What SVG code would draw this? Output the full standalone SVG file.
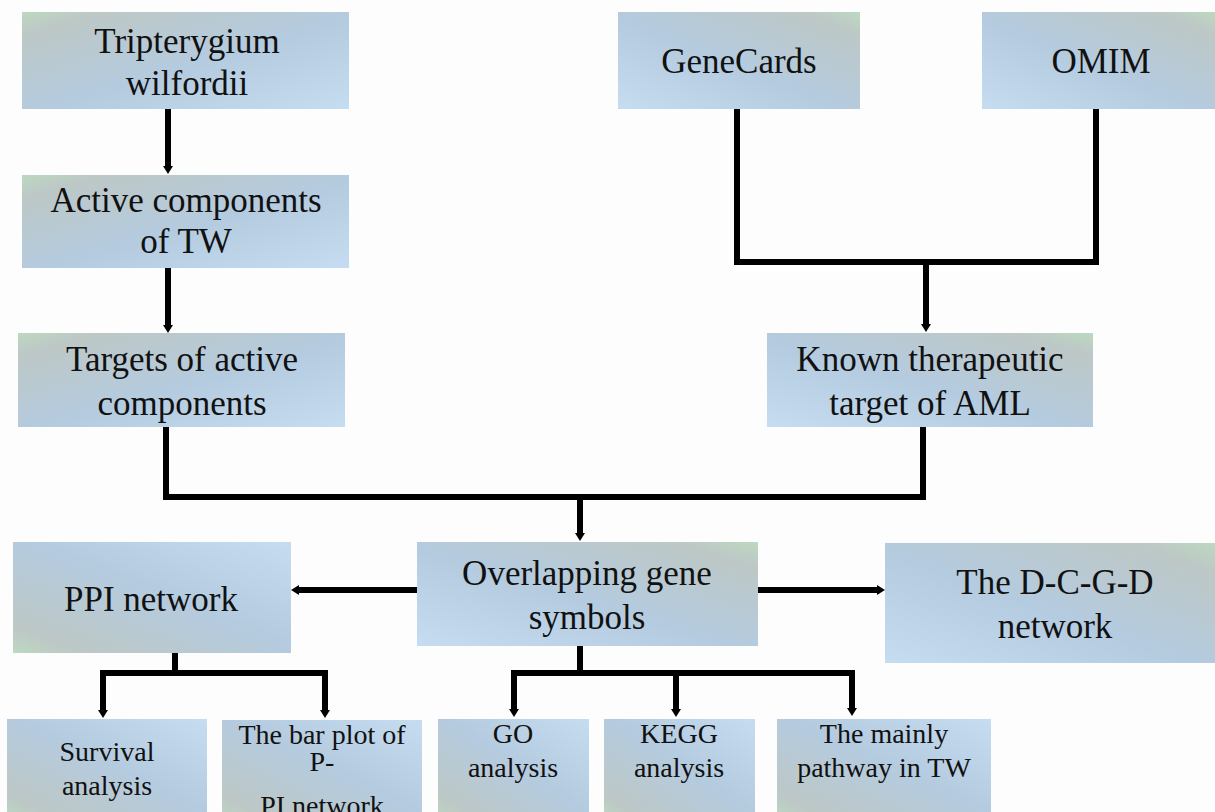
<svg xmlns="http://www.w3.org/2000/svg" width="1215" height="812" viewBox="0 0 1215 812">
<defs>
<linearGradient id="gA" x1="1" y1="0" x2="0" y2="1">
<stop offset="0" stop-color="#bcd9c0"/>
<stop offset="0.12" stop-color="#bdc8c6"/>
<stop offset="0.55" stop-color="#b4cbe0"/>
<stop offset="1" stop-color="#c6ddf1"/>
</linearGradient>
<linearGradient id="gB" x1="0" y1="0" x2="1" y2="1">
<stop offset="0" stop-color="#bcd9c0"/>
<stop offset="0.12" stop-color="#bdc8c6"/>
<stop offset="0.55" stop-color="#b4cbe0"/>
<stop offset="1" stop-color="#c6ddf1"/>
</linearGradient>
<linearGradient id="gC" x1="0" y1="1" x2="1" y2="0">
<stop offset="0" stop-color="#bcd9c0"/>
<stop offset="0.12" stop-color="#bdc8c6"/>
<stop offset="0.55" stop-color="#b4cbe0"/>
<stop offset="1" stop-color="#c6ddf1"/>
</linearGradient>
<marker id="ah" markerUnits="userSpaceOnUse" markerWidth="9" markerHeight="12" refX="0" refY="6" orient="auto">
<path d="M0,1 L8,6 L0,11 z" fill="#000"/>
</marker>
<style>
.t{font-family:"Liberation Serif","Times New Roman",serif;font-size:35px;fill:#111;text-anchor:middle}
.s{font-family:"Liberation Serif","Times New Roman",serif;font-size:28px;fill:#111;text-anchor:middle}
.ln{fill:none;stroke:#000;stroke-width:6;stroke-linejoin:miter}
.bar{fill:none;stroke:#000;stroke-width:6;stroke-linecap:square}
.ar{fill:none;stroke:#000;stroke-width:6;marker-end:url(#ah)}
</style>
</defs>
<rect width="1215" height="812" fill="#fdfdfd"/>

<g id="connectors">
<path class="ar" d="M168,109 V166"/>
<path class="ar" d="M168,268 V325"/>
<path class="ln" d="M737,109 V262 H1096 V109"/>
<path class="ar" d="M926,262 V324"/>
<path class="ln" d="M166,427 V497 H923 V427"/>
<path class="ar" d="M580,497 V533"/>
<path class="ar" d="M417,590 H299"/>
<path class="ar" d="M758,590 H877"/>
<path class="ln" d="M175,653 V673"/>
<path class="bar" d="M103,673 H325"/>
<path class="ar" d="M103,673 V710"/>
<path class="ar" d="M325,673 V710"/>
<path class="ln" d="M580,646 V673"/>
<path class="bar" d="M514,673 H852"/>
<path class="ar" d="M514,673 V709"/>
<path class="ar" d="M676,673 V709"/>
<path class="ar" d="M852,673 V708"/>
</g>

<g id="n-tw"><rect x="22" y="12" width="327" height="97" fill="url(#gB)"/>
<text class="t" x="187" y="53">Tripterygium</text><text class="t" x="187" y="95">wilfordii</text></g>
<g id="n-active"><rect x="22" y="175" width="327" height="93" fill="url(#gB)"/>
<text class="t" x="186" y="212">Active components</text><text class="t" x="186" y="253">of TW</text></g>
<g id="n-targets"><rect x="18" y="333" width="327" height="94" fill="url(#gB)"/>
<text class="t" x="182" y="371">Targets of active</text><text class="t" x="182" y="415">components</text></g>
<g id="n-genecards"><rect x="618" y="12" width="242" height="97" fill="url(#gA)"/>
<text class="t" x="739" y="73">GeneCards</text></g>
<g id="n-omim"><rect x="982" y="12" width="233" height="97" fill="url(#gA)"/>
<text class="t" x="1101" y="73">OMIM</text></g>
<g id="n-known"><rect x="767" y="333" width="326" height="94" fill="url(#gA)"/>
<text class="t" x="930" y="371">Known therapeutic</text><text class="t" x="930" y="415">target of AML</text></g>
<g id="n-ppi"><rect x="13" y="542" width="278" height="111" fill="url(#gC)"/>
<text class="t" x="151" y="611">PPI network</text></g>
<g id="n-overlap"><rect x="417" y="542" width="341" height="104" fill="url(#gA)"/>
<text class="t" x="587" y="585">Overlapping gene</text><text class="t" x="587" y="629">symbols</text></g>
<g id="n-dcgd"><rect x="885" y="543" width="330" height="120" fill="url(#gA)"/>
<text class="t" x="1055" y="594">The D-C-G-D</text><text class="t" x="1055" y="638">network</text></g>
<g id="n-survival"><rect x="7" y="719" width="200" height="100" fill="url(#gC)"/>
<text class="s" x="107" y="761">Survival</text><text class="s" x="107" y="795">analysis</text></g>
<g id="n-barplot"><rect x="222" y="720" width="200" height="100" fill="url(#gC)"/>
<text class="s" x="322" y="744">The bar plot of</text><text class="s" x="322" y="771">P-</text><text class="s" x="322" y="815">PI network</text></g>
<g id="n-go"><rect x="438" y="719" width="151" height="100" fill="url(#gC)"/>
<text class="s" x="513" y="743">GO</text><text class="s" x="513" y="777">analysis</text></g>
<g id="n-kegg"><rect x="604" y="719" width="151" height="100" fill="url(#gC)"/>
<text class="s" x="679" y="743">KEGG</text><text class="s" x="679" y="777">analysis</text></g>
<g id="n-pathway"><rect x="777" y="719" width="214" height="100" fill="url(#gC)"/>
<text class="s" x="884" y="743">The mainly</text><text class="s" x="884" y="777">pathway in TW</text></g>
</svg>
